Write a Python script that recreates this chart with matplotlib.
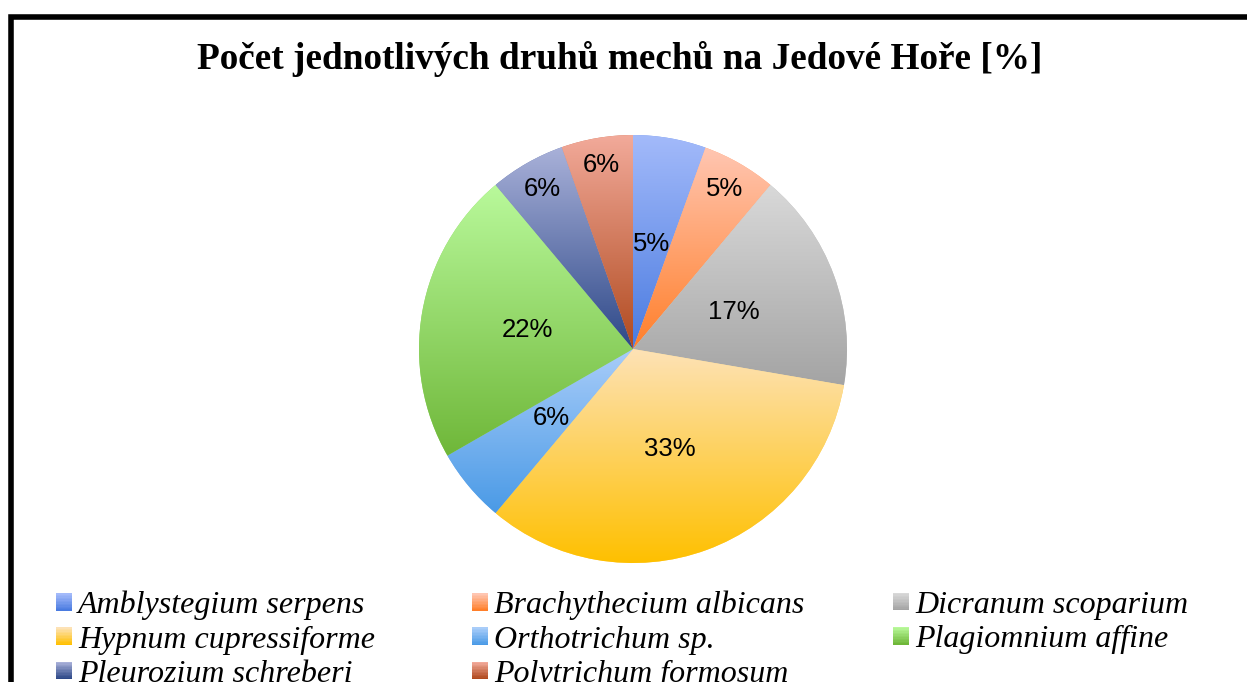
import numpy as np
import matplotlib
matplotlib.use("Agg")
import matplotlib.pyplot as plt
from matplotlib.colors import LinearSegmentedColormap, to_rgb
from matplotlib.patches import Rectangle
from matplotlib.legend_handler import HandlerBase

# data
species = ["Amblystegium serpens", "Brachythecium albicans", "Dicranum scoparium",
           "Hypnum cupressiforme", "Orthotrichum sp.", "Plagiomnium affine",
           "Pleurozium schreberi", "Polytrichum formosum"]
shares = [5.5, 5.6, 16.6, 33.4, 5.6, 22.2, 5.7, 5.4]
pct_labels = ["5%", "5%", "17%", "33%", "6%", "22%", "6%", "6%"]
label_dist = [0.5, 0.86, 0.5, 0.5, 0.5, 0.5, 0.86, 0.87]

# gradient colours (top, bottom)
light = ["#a3bafa", "#ffc6b2", "#d9d9d9", "#fde2b6", "#a9cdf9", "#b9f99b", "#a9b1d9", "#f2aa9a"]
dark = ["#4a7be0", "#ff7f2a", "#a4a4a4", "#ffc000", "#4a9ae6", "#6fb739", "#2d4888", "#b04a1f"]


class GradientHandler(HandlerBase):
    """Legend key drawn as a small vertical gradient square."""

    def __init__(self, lo, hi, steps=12):
        super().__init__()
        self.lo = np.array(to_rgb(lo))
        self.hi = np.array(to_rgb(hi))
        self.steps = steps

    def create_artists(self, legend, orig_handle, xdescent, ydescent,
                       width, height, fontsize, trans):
        strips = []
        h = height / self.steps
        for s in range(self.steps):
            t = s / (self.steps - 1)
            c = self.lo * (1 - t) + self.hi * t
            strips.append(Rectangle((-xdescent, -ydescent + s * h), width, h * 1.05,
                                    facecolor=c, edgecolor="none", transform=trans))
        return strips


W, H = 1247, 682
fig = plt.figure(figsize=(W / 100, H / 100), dpi=100)
fig.patch.set_facecolor("white")

# outer frame (clipped at right and bottom like the original)
fig.patches.append(Rectangle((10.5 / W, -0.05), 1.1, (H - 16.5) / H + 0.05,
                             transform=fig.transFigure, fill=False,
                             edgecolor="black", linewidth=4.0, zorder=0))

fig.text(620 / W, 1 - 59 / H, "Počet jednotlivých druhů mechů na Jedové Hoře [%]",
         ha="center", va="center", fontsize=26.8, fontweight="bold",
         family="Liberation Serif")

cx, cy, r = 633, 349, 214
ax = fig.add_axes([(cx - r) / W, (H - cy - r) / H, 2 * r / W, 2 * r / H])
mids = [tuple((np.array(to_rgb(a)) + np.array(to_rgb(b))) / 2) for a, b in zip(light, dark)]
wedges, _ = ax.pie(shares, startangle=90, counterclock=False, colors=mids,
                   wedgeprops=dict(linewidth=0))

grad = np.linspace(0, 1, 256).reshape(-1, 1)
for w, lo, hi in zip(wedges, dark, light):
    bb = w.get_path().get_extents()
    cmap = LinearSegmentedColormap.from_list("g", [lo, hi])
    im = ax.imshow(grad, cmap=cmap, origin="lower", aspect="auto",
                   extent=[bb.x0, bb.x1, bb.y0, bb.y1], interpolation="bilinear",
                   zorder=2)
    im.set_clip_path(w)

for w, txt, d in zip(wedges, pct_labels, label_dist):
    ang = np.deg2rad((w.theta1 + w.theta2) / 2)
    ax.text(d * np.cos(ang), d * np.sin(ang), txt, ha="center", va="center",
            fontsize=18.5, family="Liberation Sans", zorder=3)

ax.set_xlim(-1, 1)
ax.set_ylim(-1, 1)
ax.set_aspect("equal")
ax.axis("off")

# legend: three columns, row-wise order
col_x = [56, 472, 893]
for i, x in enumerate(col_x):
    idx = list(range(i, len(species), 3))
    fig.legend([wedges[k] for k in idx], [species[k] for k in idx],
               handler_map={wedges[k]: GradientHandler(dark[k], light[k]) for k in idx},
               loc="upper left", bbox_to_anchor=(x / W, 1 - 591 / H),
               frameon=False, borderpad=0, borderaxespad=0,
               handlelength=0.5, handleheight=0.47, handletextpad=0.19,
               labelspacing=0.16,
               prop=dict(family="Liberation Serif", style="italic", size=23))

fig.savefig("out.png", dpi=100)
